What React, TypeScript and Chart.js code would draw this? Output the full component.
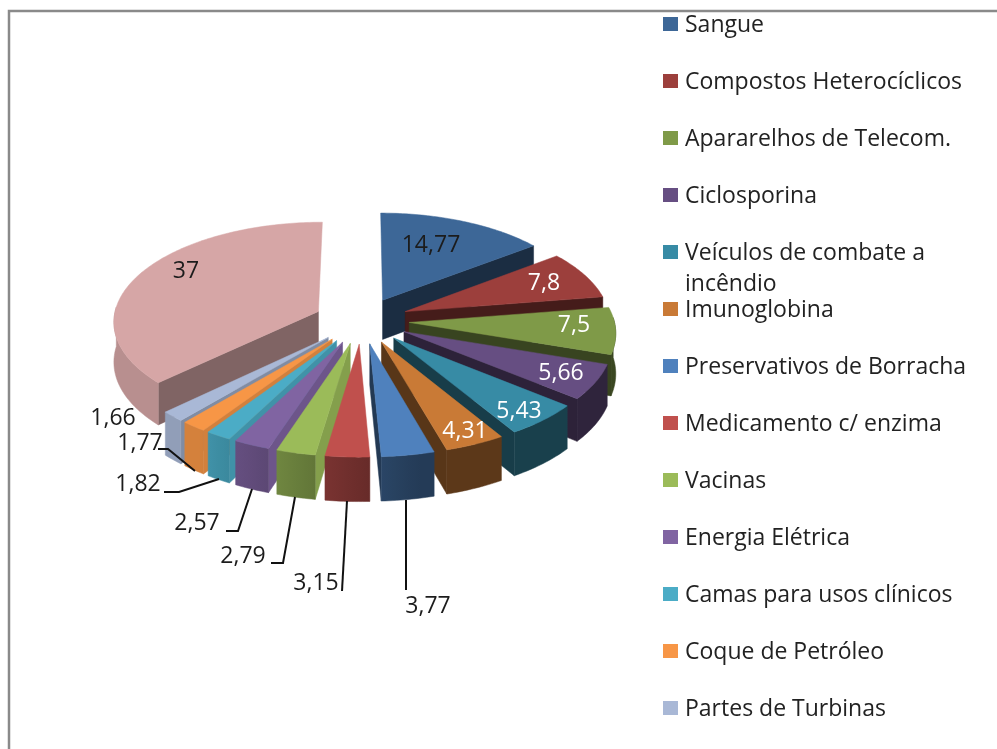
import React, { useEffect, useRef } from "react";
import { Chart, registerables } from "chart.js";

Chart.register(...registerables);

const categories = [
  "Sangue", "Compostos Heterocíclicos", "Apararelhos de Telecom.", "Ciclosporina",
  "Veículos de combate a incêndio", "Imunoglobina", "Preservativos de Borracha",
  "Medicamento c/ enzima", "Vacinas", "Energia Elétrica",
  "Camas para usos clínicos", "Coque de Petróleo", "Partes de Turbinas", "Outros",
];
const values = [14.77, 7.8, 7.5, 5.66, 5.43, 4.31, 3.77, 3.15, 2.79, 2.57, 1.82, 1.77, 1.66, 37];
const valueLabels = ["14,77", "7,8", "7,5", "5,66", "5,43", "4,31", "3,77", "3,15", "2,79", "2,57", "1,82", "1,77", "1,66", "37"];
const colors = [
  "#3d6797", "#9c3f3c", "#7f9a48", "#664e82", "#378ba5", "#c97a36", "#4f81bd",
  "#c0504d", "#9bbb59", "#8064a2", "#4bacc6", "#f79646", "#a9b8d6", "#d6a6a6",
];
const labelColors = ["#1c1c1c", "#fff", "#fff", "#fff", "#fff", "#fff", "#1c1c1c", "#1c1c1c", "#1c1c1c", "#1c1c1c", "#1c1c1c", "#1c1c1c", "#1c1c1c", "#1c1c1c"];
const labelCenters: [number, number][] = [
  [431, 245], [544, 283], [574, 325], [561, 373], [519, 411], [465, 431],
  [428, 606], [316, 583], [243, 556], [197, 523], [138, 484], [140, 443], [113, 418], [186, 271],
];
const leaders: ([number, number][] | null)[] = [
  null, null, null, null, null, null,
  [[406, 590], [406, 500]],
  [[342, 591], [347, 501]],
  [[271, 563], [283, 563], [295, 497]],
  [[226, 531], [238, 531], [252, 489]],
  [[164, 492], [179, 492], [219, 479]],
  [[158, 449], [168, 449], [195, 471]],
  null, null,
];

const FONT = '"Open Sans"';
const CX = 361.7, CY = 320.5, K = 0.487, P = 0.00044, DEPTH = 40, WORLD_R = 205;

function shade(hex: string, f: number) {
  const n = parseInt(hex.slice(1), 16);
  const c = [(n >> 16) & 255, (n >> 8) & 255, n & 255].map((v) => Math.round(v * f));
  return `rgb(${c[0]},${c[1]},${c[2]})`;
}
const outerShade = (deg: number) => Math.max(0.46, Math.min(0.86, 0.46 + ((deg - 168) * 0.4) / 48));
const startShade = (deg: number) => (deg < 180 ? 0.46 : deg < 215 ? 0.85 : deg < 224 ? 0.76 : 0.6);

const pie3d = {
  id: "pie3d",
  beforeDatasetsDraw(chart: any) {
    const ctx = chart.ctx as CanvasRenderingContext2D;
    ctx.fillStyle = "#fff";
    ctx.fillRect(0, 0, chart.width, chart.height);
    ctx.strokeStyle = "#8a8a8a";
    ctx.lineWidth = 2.5;
    ctx.beginPath();
    ctx.moveTo(9, chart.height);
    ctx.lineTo(9, 11);
    ctx.lineTo(chart.width, 11);
    ctx.stroke();

    const meta = chart.getDatasetMeta(0);
    const slices = meta.data.map((el: any, i: number) => {
      const scale = WORLD_R / el.outerRadius;
      const a0 = el.startAngle + Math.PI / 2;
      const a1 = el.endAngle + Math.PI / 2;
      const mid = (a0 + a1) / 2;
      return { i, a0, a1, mid, off: el.options.offset * scale };
    });
    slices.sort((a: any, b: any) => Math.cos(b.mid) - Math.cos(a.mid));

    const proj = (X: number, Y: number, d: number) => {
      const s = 1 + P * Y;
      return [CX + X * s, CY + K * Y * s + d * s] as [number, number];
    };
    const poly = (pts: [number, number][], fill: any) => {
      ctx.beginPath();
      pts.forEach((p, n) => (n ? ctx.lineTo(p[0], p[1]) : ctx.moveTo(p[0], p[1])));
      ctx.closePath();
      ctx.fillStyle = fill;
      ctx.strokeStyle = fill;
      ctx.lineWidth = 0.5;
      ctx.fill();
      ctx.stroke();
    };

    for (const sl of slices) {
      const base = colors[sl.i];
      const ox = sl.off * Math.sin(sl.mid);
      const oy = -sl.off * Math.cos(sl.mid);
      const pt = (t: number, r: number, d: number) =>
        proj(ox + r * Math.sin(t), oy - r * Math.cos(t), d);
      const d0 = (sl.a0 * 180) / Math.PI;
      const apexT = pt(0, 0, 0), apexB = pt(0, 0, DEPTH);
      if (Math.sin(sl.a1) > 0.01) {
        poly([apexT, pt(sl.a1, WORLD_R, 0), pt(sl.a1, WORLD_R, DEPTH), apexB], shade(base, 0.44));
      }
      if (Math.sin(sl.a0) < -0.01) {
        poly([apexT, pt(sl.a0, WORLD_R, 0), pt(sl.a0, WORLD_R, DEPTH), apexB], shade(base, startShade(d0)));
      }
      const steps = Math.max(2, Math.ceil(((sl.a1 - sl.a0) * 180) / Math.PI));
      const tAt = (s: number) => sl.a0 + ((sl.a1 - sl.a0) * s) / steps;
      const upper: [number, number][] = [];
      const wallUp: [number, number][] = [];
      const wallDown: [number, number][] = [];
      let firstFront = -1;
      let lastFront = -1;
      for (let s = 0; s <= steps; s++) {
        const t = tAt(s);
        upper.push(pt(t, WORLD_R, 0));
        if (Math.cos(t) < 0.05) {
          wallUp.push(pt(t, WORLD_R, 0));
          wallDown.unshift(pt(t, WORLD_R, DEPTH));
          if (firstFront < 0) firstFront = s;
          lastFront = s;
        }
      }
      // Rim: one polygon with a gradient running along the front-facing part only
      if (wallUp.length > 1) {
        const xa = wallUp[0][0], xb = wallUp[wallUp.length - 1][0];
        const grad = ctx.createLinearGradient(xa, 0, Math.abs(xb - xa) < 1 ? xa + 1 : xb, 0);
        for (let g = 0; g <= 4; g++) {
          const s = firstFront + ((lastFront - firstFront) * g) / 4;
          grad.addColorStop(g / 4, shade(base, outerShade((tAt(s) * 180) / Math.PI)));
        }
        poly([...wallUp, ...wallDown], grad);
      }
      poly([apexT, ...upper], base);
    }
    return false;
  },
  afterDraw(chart: any) {
    const ctx = chart.ctx as CanvasRenderingContext2D;
    ctx.textBaseline = "middle";
    ctx.strokeStyle = "#111";
    ctx.lineWidth = 2;
    leaders.forEach((l) => {
      if (!l) return;
      ctx.beginPath();
      l.forEach((p, n) => (n ? ctx.lineTo(p[0], p[1]) : ctx.moveTo(p[0], p[1])));
      ctx.stroke();
    });
    ctx.font = `23px ${FONT}`;
    ctx.textAlign = "center";
    valueLabels.forEach((t, i) => {
      ctx.fillStyle = labelColors[i];
      ctx.fillText(t, labelCenters[i][0], labelCenters[i][1]);
    });
    ctx.textAlign = "left";
    categories.slice(0, 13).forEach((name, i) => {
      const y = 24 + i * 57;
      ctx.fillStyle = colors[i];
      ctx.fillRect(663, y - 7, 15, 14);
      ctx.fillStyle = "#222";
      const words = name.split(" ");
      let line = "";
      let ly = y + 1;
      words.forEach((w) => {
        const test = line ? line + " " + w : w;
        if (ctx.measureText(test).width > 300 && line) {
          ctx.fillText(line, 685, ly);
          ly += 31;
          line = w;
        } else line = test;
      });
      ctx.fillText(line, 685, ly);
    });
  },
};

export default function App() {
  const ref = useRef<HTMLCanvasElement>(null);
  useEffect(() => {
    const chart = new Chart(ref.current!, {
      type: "pie",
      data: {
        labels: categories,
        datasets: [{ data: values, backgroundColor: colors, offset: 69.6, borderWidth: 0 }],
      },
      options: {
        responsive: false,
        animation: false,
        events: [],
        radius: 300,
        plugins: { legend: { display: false }, tooltip: { enabled: false } },
      } as any,
      plugins: [pie3d],
    });
    return () => chart.destroy();
  }, []);
  return (
    <div style={{ position: "fixed", left: 0, top: 0, width: 997, height: 749 }}>
      <canvas ref={ref} width={997} height={749} style={{ display: "block", filter: "blur(0.35px)" }} />
    </div>
  );
}
